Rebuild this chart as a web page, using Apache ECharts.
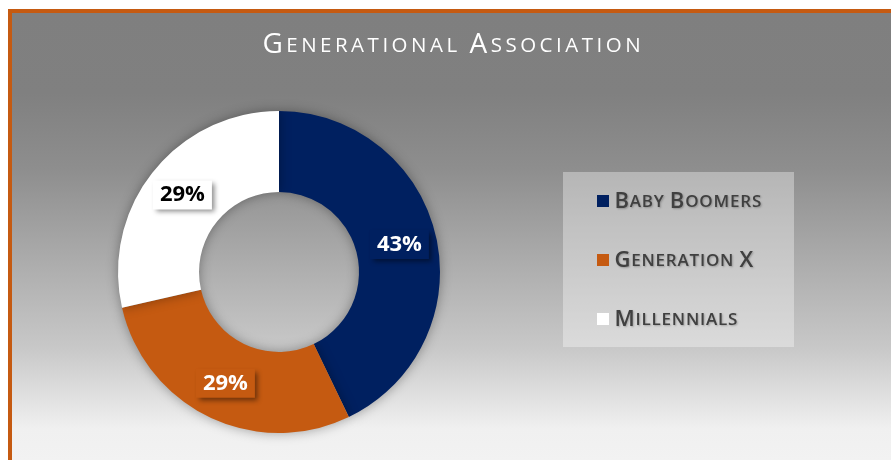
<!DOCTYPE html>
<html>
<head>
<meta charset="utf-8">
<script src="https://cdn.jsdelivr.net/npm/echarts@6/dist/echarts.min.js"></script>
<style>
  html, body { margin: 0; padding: 0; background: #ffffff; }
  .frame {
    position: absolute;
    left: 8px;
    top: 9px;
    border-left: 4px solid #c55a11;
    border-top: 4px solid #c55a11;
  }
  #chart {
    width: 879px;
    height: 447px;
    background: linear-gradient(to bottom, #7f7f7f 0%, #808080 18%, #8e8e8e 35%, #c8c8c8 75%, #f0f0f0 93%, #f2f2f2 100%);
  }
</style>
</head>
<body>
<div class="frame"><div id="chart"></div></div>
<script>
const titleText = "Generational Association";
const categories = ["Baby Boomers", "Generation X", "Millennials"];
const values = [3, 2, 2];
const sliceColors = ["#002060", "#c55a11", "#ffffff"];
const labelTextColors = ["#ffffff", "#ffffff", "#000000"];

const FONT = "'Open Sans', 'DejaVu Sans', sans-serif";

// Office-style small caps: capitals at full size, the rest as smaller capitals
function smallCaps(text, big, small) {
  return text
    .split("")
    .map((ch) => {
      if (ch === " ") return `{${small}| }`;
      const style = ch === ch.toUpperCase() ? big : small;
      return `{${style}|${ch.toUpperCase()}}`;
    })
    .join("");
}

const chart = echarts.init(document.getElementById("chart"));

chart.setOption({
  backgroundColor: "transparent",
  animation: false,
  title: {
    text: smallCaps(titleText, "big", "sm"),
    left: "center",
    top: 7,
    textStyle: {
      fontWeight: "normal",
      rich: {
        big: { fontFamily: FONT, fontSize: 28, fontWeight: 500, color: "#ffffff", lineHeight: 34, verticalAlign: "bottom", padding: [0, 1.75, 0, 1.75] },
        sm: { fontFamily: FONT, fontSize: 20.5, fontWeight: 500, color: "#ffffff", lineHeight: 34, verticalAlign: "bottom", padding: [0, 1.75, 2, 1.75] }
      }
    }
  },
  graphic: [
    {
      type: "rect",
      left: 551,
      top: 159,
      z: 0,
      shape: { width: 231, height: 175 },
      style: { fill: "rgba(255,255,255,0.35)" }
    }
  ],
  legend: {
    orient: "vertical",
    left: 580,
    top: 173,
    itemWidth: 12,
    itemHeight: 12,
    itemGap: 37,
    icon: "rect",
    data: categories,
    formatter: (name) => smallCaps(name, "big", "sm"),
    textStyle: {
      color: "#404040",
      rich: {
        big: { fontFamily: FONT, fontSize: 22, fontWeight: 600, color: "#404040", lineHeight: 24, verticalAlign: "bottom", padding: [0, 0.4, 0, 0.4],
          textShadowColor: "rgba(0,0,0,0.25)", textShadowBlur: 2, textShadowOffsetX: 1, textShadowOffsetY: 1 },
        sm: { fontFamily: FONT, fontSize: 17, fontWeight: 600, color: "#404040", lineHeight: 24, verticalAlign: "bottom", padding: [0, 0.4, 2, 0.4],
          textShadowColor: "rgba(0,0,0,0.25)", textShadowBlur: 2, textShadowOffsetX: 1, textShadowOffsetY: 1 }
      }
    }
  },
  series: [
    {
      type: "pie",
      center: [267, 259],
      radius: [80, 161],
      startAngle: 90,
      clockwise: true,
      silent: true,
      emphasis: { disabled: true },
      itemStyle: {
        shadowBlur: 12,
        shadowColor: "rgba(0,0,0,0.35)"
      },
      label: {
        show: true,
        position: "inside",
        formatter: (p) => Math.round(p.percent) + "%",
        fontFamily: FONT,
        fontSize: 22,
        fontWeight: "bold",
        lineHeight: 23,
        padding: [3, 7, 3, 7],
        shadowBlur: 5,
        shadowOffsetX: 3,
        shadowOffsetY: 3,
        shadowColor: "rgba(0,0,0,0.45)"
      },
      labelLine: { show: false },
      data: categories.map((name, i) => ({
        name,
        value: values[i],
        itemStyle: { color: sliceColors[i] },
        label: { color: labelTextColors[i], backgroundColor: sliceColors[i] }
      }))
    }
  ]
});
</script>
</body>
</html>
